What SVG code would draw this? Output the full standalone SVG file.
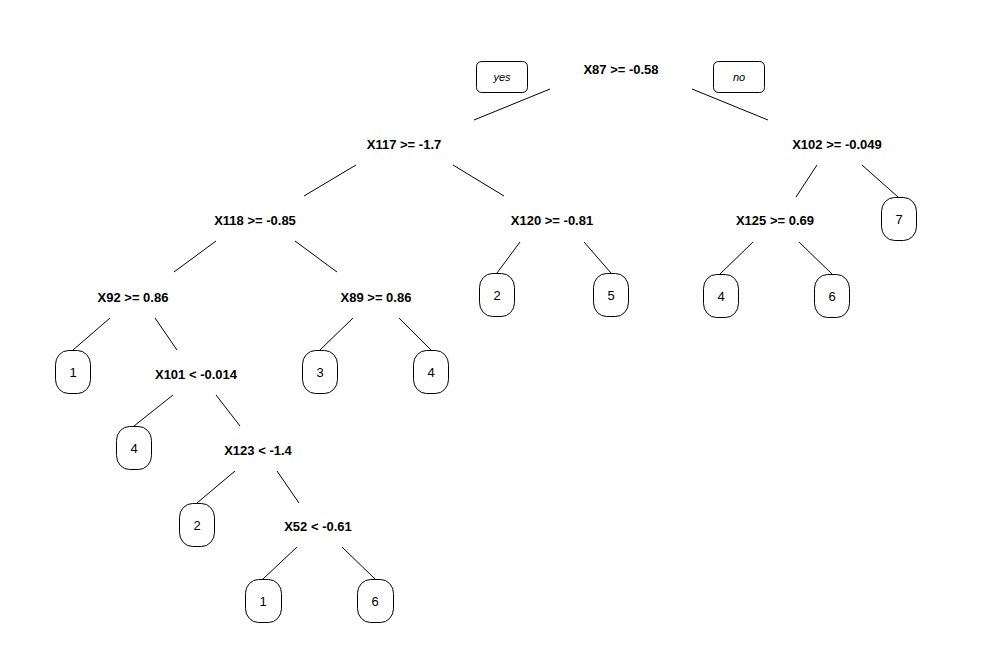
<svg xmlns="http://www.w3.org/2000/svg" width="986" height="664" viewBox="0 0 986 664">
  <style>
    .split { font-family: "Liberation Sans", Arial, sans-serif; font-size: 13px; font-weight: bold; fill: #000; text-anchor: middle; }
    .leaf rect { fill: #fff; stroke: #000; stroke-width: 1; }
    .leaf text { font-family: "Liberation Sans", Arial, sans-serif; font-size: 13px; fill: #000; text-anchor: middle; }
    .tag rect { fill: #fff; stroke: #000; stroke-width: 1; }
    .tag text { font-family: "Liberation Sans", Arial, sans-serif; font-size: 11px; font-style: italic; fill: #000; text-anchor: middle; }
    #edges line { stroke: #000; stroke-width: 1; }
  </style>
  <rect width="986" height="664" fill="#fff"/>

  <!-- connectors -->
  <g id="edges">
    <line x1="550" y1="89" x2="474" y2="120"/>
    <line x1="692" y1="89" x2="768" y2="120"/>
    <line x1="356" y1="165" x2="304" y2="196"/>
    <line x1="453" y1="165" x2="504" y2="196"/>
    <line x1="817" y1="165" x2="796" y2="197"/>
    <line x1="862" y1="165" x2="898" y2="197"/>
    <line x1="216" y1="241" x2="174" y2="272"/>
    <line x1="295" y1="241" x2="337" y2="272"/>
    <line x1="520" y1="242" x2="497" y2="273"/>
    <line x1="584" y1="242" x2="611" y2="273"/>
    <line x1="753" y1="242" x2="720" y2="274"/>
    <line x1="799" y1="242" x2="832" y2="274"/>
    <line x1="110" y1="318" x2="73" y2="350"/>
    <line x1="155" y1="318" x2="177" y2="350"/>
    <line x1="353" y1="318" x2="320" y2="350"/>
    <line x1="399" y1="318" x2="431" y2="350"/>
    <line x1="173" y1="395" x2="134" y2="426"/>
    <line x1="216" y1="395" x2="240" y2="426"/>
    <line x1="235" y1="471" x2="197" y2="503"/>
    <line x1="277" y1="471" x2="299" y2="503"/>
    <line x1="297" y1="547" x2="263" y2="579"/>
    <line x1="342" y1="547" x2="375" y2="579"/>
  </g>

  <!-- branch tags -->
  <g id="tag-yes" class="tag">
    <rect x="476.5" y="61.5" width="51" height="31" rx="5" ry="5"/>
    <text x="502" y="81">yes</text>
  </g>
  <g id="tag-no" class="tag">
    <rect x="713.5" y="61.5" width="51" height="31" rx="5" ry="5"/>
    <text x="739" y="81">no</text>
  </g>

  <!-- split nodes -->
  <g id="n-X87"><text class="split" x="621" y="73.5">X87 &gt;= -0.58</text></g>
  <g id="n-X117"><text class="split" x="404" y="148.5">X117 &gt;= -1.7</text></g>
  <g id="n-X102"><text class="split" x="837" y="148.5">X102 &gt;= -0.049</text></g>
  <g id="n-X118"><text class="split" x="255" y="224.5">X118 &gt;= -0.85</text></g>
  <g id="n-X120"><text class="split" x="552" y="224.5">X120 &gt;= -0.81</text></g>
  <g id="n-X125"><text class="split" x="775" y="224.5">X125 &gt;= 0.69</text></g>
  <g id="n-X92"><text class="split" x="133" y="301.5">X92 &gt;= 0.86</text></g>
  <g id="n-X89"><text class="split" x="376" y="301.5">X89 &gt;= 0.86</text></g>
  <g id="n-X101"><text class="split" x="196" y="378.5">X101 &lt; -0.014</text></g>
  <g id="n-X123"><text class="split" x="258" y="454.5">X123 &lt; -1.4</text></g>
  <g id="n-X52"><text class="split" x="318" y="530.5">X52 &lt; -0.61</text></g>

  <!-- leaves -->
  <g id="leaf-7" class="leaf"><rect x="881.5" y="197.5" width="35" height="43" rx="13" ry="14"/><text x="899" y="224">7</text></g>
  <g id="leaf-2a" class="leaf"><rect x="479.5" y="273.5" width="35" height="43" rx="13" ry="14"/><text x="497" y="300">2</text></g>
  <g id="leaf-5" class="leaf"><rect x="593.5" y="273.5" width="35" height="43" rx="13" ry="14"/><text x="611" y="300">5</text></g>
  <g id="leaf-4a" class="leaf"><rect x="703.5" y="274.5" width="35" height="43" rx="13" ry="14"/><text x="721" y="301">4</text></g>
  <g id="leaf-6a" class="leaf"><rect x="814.5" y="274.5" width="35" height="43" rx="13" ry="14"/><text x="832" y="301">6</text></g>
  <g id="leaf-1a" class="leaf"><rect x="55.5" y="350.5" width="35" height="43" rx="13" ry="14"/><text x="73" y="377">1</text></g>
  <g id="leaf-3" class="leaf"><rect x="302.5" y="350.5" width="35" height="43" rx="13" ry="14"/><text x="320" y="377">3</text></g>
  <g id="leaf-4b" class="leaf"><rect x="413.5" y="350.5" width="35" height="43" rx="13" ry="14"/><text x="431" y="377">4</text></g>
  <g id="leaf-4c" class="leaf"><rect x="116.5" y="426.5" width="35" height="43" rx="13" ry="14"/><text x="134" y="453">4</text></g>
  <g id="leaf-2b" class="leaf"><rect x="179.5" y="503.5" width="35" height="43" rx="13" ry="14"/><text x="197" y="530">2</text></g>
  <g id="leaf-1b" class="leaf"><rect x="245.5" y="579.5" width="36" height="43" rx="13" ry="14"/><text x="263" y="606">1</text></g>
  <g id="leaf-6b" class="leaf"><rect x="357.5" y="579.5" width="36" height="43" rx="13" ry="14"/><text x="375" y="606">6</text></g>
</svg>
